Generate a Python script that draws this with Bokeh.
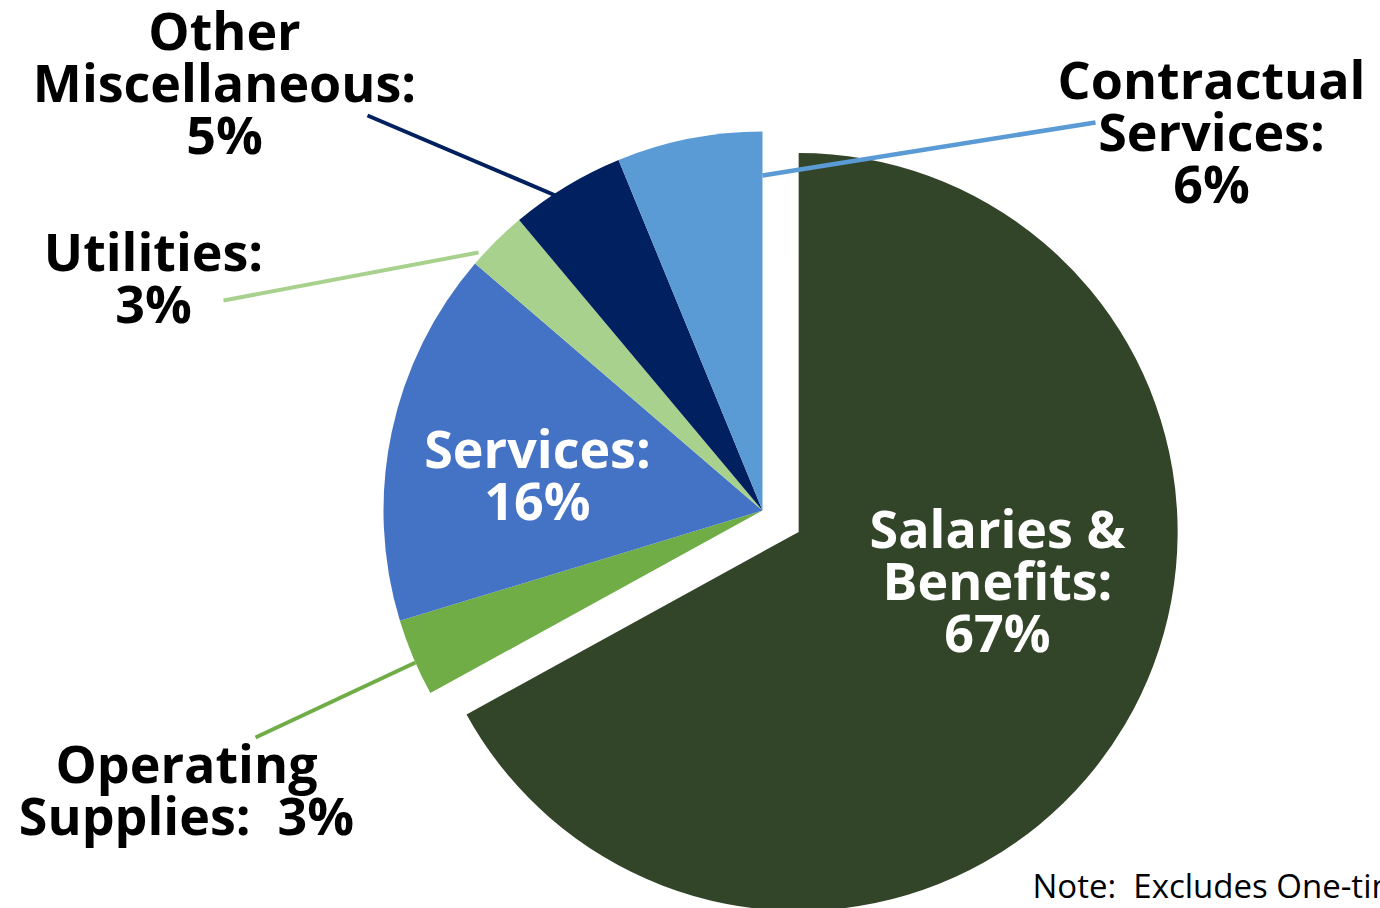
import numpy as np
from bokeh.plotting import figure
from bokeh.models import Range1d, ColumnDataSource
from bokeh.core.properties import value
from bokeh.embed import file_html
from bokeh.resources import INLINE

# ---- data ----
categories = ["Salaries & Benefits", "Operating Supplies", "Services",
              "Utilities", "Other Miscellaneous", "Contractual Services"]
shares = [67.0, 3.3, 16.0, 2.6, 4.9, 6.2]
label_lines = [["Salaries &", "Benefits:", "67%"],
               ["Operating", "Supplies:\u00a0\u00a03%"],
               ["Services:", "16%"],
               ["Utilities:", "3%"],
               ["Other", "Miscellaneous:", "5%"],
               ["Contractual", "Services:", "6%"]]
note_text = "Note:\u00a0\u00a0Excludes One-time"

# ---- styles / layout ----
colors = ["#334529", "#70AD47", "#4472C4", "#A9D18E", "#002060", "#5B9BD5"]
label_colors = ["white", "black", "white", "black", "black", "black"]
explode = [42, 0, 0, 0, 0, 0]
# label anchors in page pixels (center x, first baseline y)
label_pos = [(997, 547), (186, 782), (537, 467), (153, 270), (224, 49), (1211, 98)]
# leader lines in page pixels (None = no leader)
leaders = [None, ((415, 662), (255, 737)), None, ((478, 252), (223, 300)),
           ((555, 195), (367, 115)), ((762, 175), (1095, 122))]
leader_w = [0, 4, 0, 4, 4, 4.5]
line_step = 52
font_px = 52
baseline_fix = 0.38  # em; renderer's baseline offset correction

W, H = 1380, 908
def Y(py):  # page pixel y -> data y
    return H - py

cx, cy, R = 762, Y(510), 379

p = figure(width=W, height=H, output_backend="svg", toolbar_location=None,
           x_range=Range1d(0, W), y_range=Range1d(0, H), min_border=0)
p.axis.visible = False
p.grid.visible = False
p.outline_line_color = None
p.background_fill_color = "white"
p.border_fill_color = "white"

vals = np.array(shares, dtype=float)
frac = vals / vals.sum()
cum = np.concatenate([[0], np.cumsum(frac)])
a_start = np.pi / 2 - 2 * np.pi * cum[:-1]
a_end = np.pi / 2 - 2 * np.pi * cum[1:]
mid = (a_start + a_end) / 2
xs = cx + np.array(explode) * np.cos(mid)
ys = cy + np.array(explode) * np.sin(mid)

src = ColumnDataSource(dict(x=xs, y=ys, start=a_end, end=a_start,
                            color=colors, name=categories))
p.wedge(x="x", y="y", radius=R, start_angle="start", end_angle="end",
        fill_color="color", line_color=None, source=src)

for i, ld in enumerate(leaders):
    if ld is None:
        continue
    (x0, y0), (x1, y1) = ld
    p.line([x0, x1], [Y(y0), Y(y1)], line_color=colors[i], line_width=leader_w[i])

tx, ty, tt, tc = [], [], [], []
for i, lines in enumerate(label_lines):
    lx, ly = label_pos[i]
    for j, t in enumerate(lines):
        tx.append(lx)
        ty.append(Y(ly + j * line_step - baseline_fix * font_px))
        tt.append(t); tc.append(label_colors[i])
p.text(x=tx, y=ty, text=tt, text_color=tc, text_align="center",
       text_baseline="alphabetic", text_font=value("Open Sans"),
       text_font_style="bold", text_font_size=f"{font_px}px")

note_px = 33
p.text(x=[1032], y=[Y(898 - baseline_fix * note_px)], text=[note_text], text_color="black",
       text_align="left", text_baseline="alphabetic",
       text_font=value("Open Sans"), text_font_size=f"{note_px}px")

open("out.html", "w").write(file_html(p, INLINE))
